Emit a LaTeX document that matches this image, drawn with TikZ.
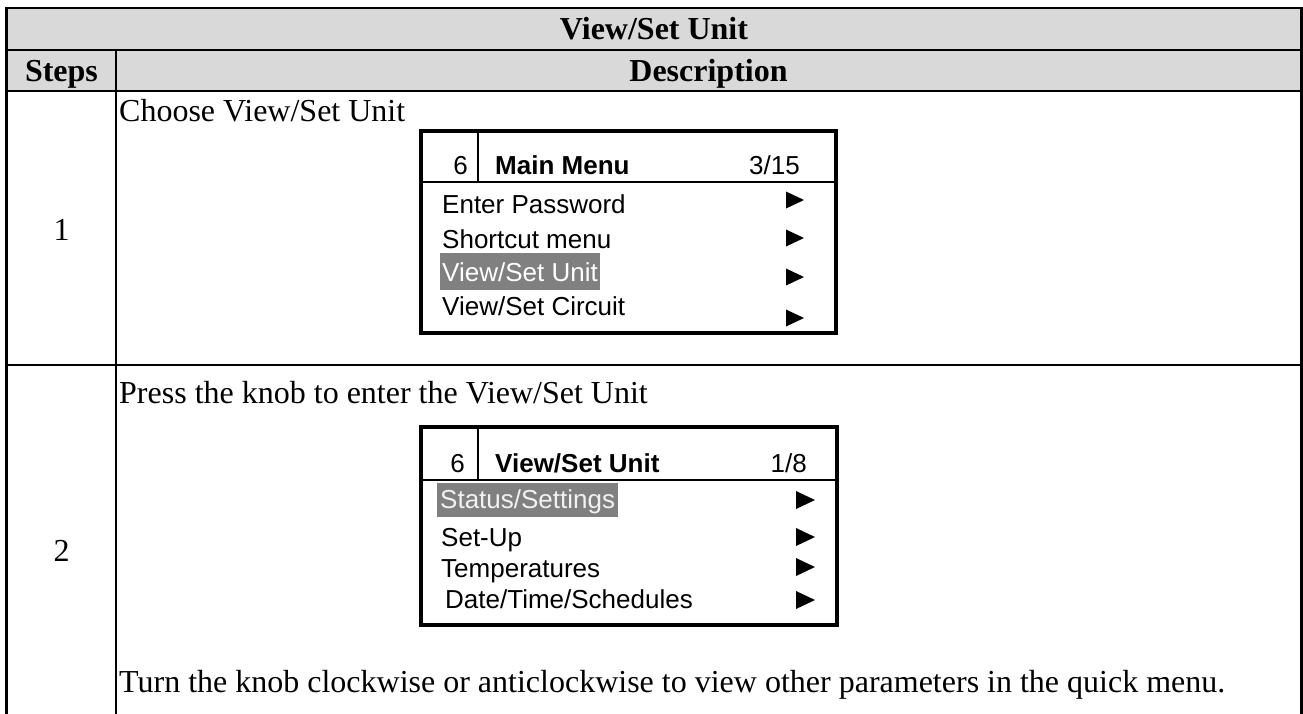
\documentclass[tikz,border=0pt]{standalone}
\usepackage{fontspec}
\setmainfont{Liberation Serif}
\newfontfamily\lcdfont{Liberation Sans}
\definecolor{headgray}{HTML}{D9D9D9}
\definecolor{selgray}{HTML}{808080}
\begin{document}
\begin{tikzpicture}[x=1pt,y=-1pt,
  body/.style={inner sep=0pt,font=\fontsize{32}{38}\selectfont},
  bodybf/.style={inner sep=0pt,font=\fontsize{32}{38}\selectfont\bfseries},
  lcd/.style={inner sep=0pt,font=\lcdfont\fontsize{26}{30}\selectfont},
  lcdbf/.style={inner sep=0pt,font=\lcdfont\bfseries\fontsize{26}{30}\selectfont},
  rule/.style={line width=2.6pt},
  lcdframe/.style={line width=4pt},
  lcdsep/.style={line width=2.6pt},
  selbar/.style={fill=selgray},
  tri/.style={fill=black}]

\useasboundingbox (0,0) rectangle (1303,713);

% header band
\fill[headgray] (6.3,8) rectangle (1301.5,91);

% table rules
\draw[rule,line join=miter] (6.3,716) -- (6.3,8) -- (1301.5,8) -- (1301.5,716);
\draw[rule] (6.3,50) -- (1301.5,50);
\draw[rule] (6.3,91) -- (1301.5,91);
\draw[rule] (6.3,365) -- (1301.5,365);
\draw[rule] (116,50) -- (116,716);

% header texts
\node[bodybf,anchor=base] (title) at (654,39.5) {View/Set Unit};
\node[bodybf,anchor=base] (hsteps) at (61.5,81) {Steps};
\node[bodybf,anchor=base] (hdesc) at (708.5,81) {Description};

% step numbers
\node[body,anchor=base] (n1) at (61.5,240) {1};
\node[body,anchor=base] (n2) at (61.5,561) {2};

% step 1
\node[body,anchor=base west] (d1) at (119,121) {Choose View/Set Unit};

% screen: main menu
\fill[selbar] (440,253) rectangle (600,290);
\draw[lcdframe] (421,131) rectangle (836,333);
\draw[lcdsep] (421,182) -- (836,182);
\draw[lcdsep] (478,131) -- (478,182);
\node[lcd,anchor=base east] (s1no) at (468,174) {6};
\node[lcdbf,anchor=base west] (s1title) at (495,174) {Main Menu};
\node[lcd,anchor=base east] (s1page) at (800,174) {3/15};
\node[lcd,anchor=base west] (s1a) at (442,213) {Enter Password};
\node[lcd,anchor=base west] (s1b) at (442,248) {Shortcut menu};
\node[lcd,anchor=base west,text=white] (s1c) at (442,281) {View/Set Unit};
\node[lcd,anchor=base west] (s1d) at (442,315) {View/Set Circuit};
\foreach \yc in {200,238,277,318}
  \fill[tri] (786,\yc-8.5) -- (804,\yc) -- (786,\yc+8.5) -- cycle;

% step 2
\node[body,anchor=base west] (d2) at (119,403) {Press the knob to enter the View/Set Unit};

% screen: view/set unit
\fill[selbar] (437,483) rectangle (618,517);
\draw[lcdframe] (421,427) rectangle (837,625);
\draw[lcdsep] (421,480) -- (837,480);
\draw[lcdsep] (478,427) -- (478,480);
\node[lcd,anchor=base east] (s2no) at (465,472) {6};
\node[lcdbf,anchor=base west] (s2title) at (495,472) {View/Set Unit};
\node[lcd,anchor=base east] (s2page) at (807,472) {1/8};
\node[lcd,anchor=base west,text=white!90!selgray] (s2a) at (440,508) {Status/Settings};
\node[lcd,anchor=base west] (s2b) at (441,546) {Set-Up};
\node[lcd,anchor=base west] (s2c) at (441,577) {Temperatures};
\node[lcd,anchor=base west] (s2d) at (445,608) {Date/Time/Schedules};
\foreach \yc in {500,537,567,600}
  \fill[tri] (796,\yc-9) -- (815,\yc) -- (796,\yc+9) -- cycle;

\node[body,anchor=base west] (d3) at (119,692) {Turn the knob clockwise or anticlockwise to view other parameters in the quick menu.};
\end{tikzpicture}
\end{document}
